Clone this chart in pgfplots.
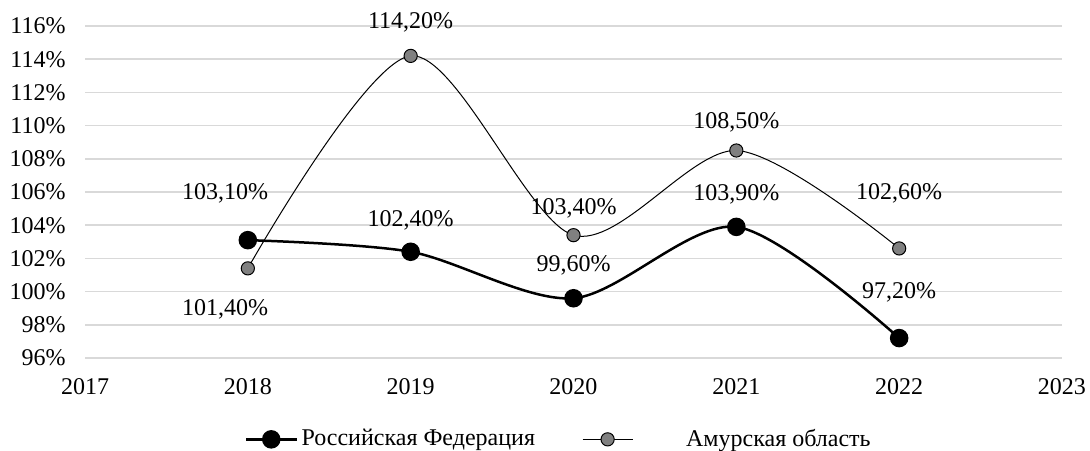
\documentclass[border=0pt]{standalone}
\usepackage{pgfplots}
\pgfplotsset{compat=1.18}
\usepackage{fontspec}
\setmainfont{Liberation Serif}
\definecolor{gridgray}{HTML}{D9D9D9}
\definecolor{amurfill}{HTML}{808080}
\begin{document}
\fontsize{12}{14}\selectfont
\begin{tikzpicture}
\path[use as bounding box] (0,0) rectangle (545pt,225pt);
\begin{axis}[
  at={(42.5pt,46pt)}, anchor=south west,
  scale only axis, width=488.5pt, height=166pt,
  xmin=2017, xmax=2023, ymin=96, ymax=116,
  xtick={2017,...,2023},
  xticklabels={2017,2018,2019,2020,2021,2022,2023},
  ytick={96,98,...,116},
  yticklabel={\pgfmathprintnumber{\tick}\%},
  /pgf/number format/assume math mode=true,
  tick label style={font=\fontsize{12}{14}\selectfont},
  ymajorgrids, grid style={gridgray, line width=0.75pt},
  axis line style={draw=none},
  major tick length=0pt,
  yticklabel style={xshift=-5.5pt},
  xticklabel style={yshift=-6pt},
  clip=false,
  legend columns=2,
  legend style={draw=none, fill=none, at={(0.486,-0.245)}, anchor=center,
    font=\fontsize{12}{14}\selectfont,
    /tikz/every even column/.append style={column sep=21.5pt}},
  legend cell align=left,
  legend image code/.code={\draw[mark repeat=2,mark phase=2,#1] plot coordinates {(0cm,0cm) (0.44cm,0cm) (0.88cm,0cm)};},
]
\addplot[black, line width=1.25pt, smooth, mark=*, mark size=4pt, mark options={fill=black, draw=black}]
  coordinates {(2018,103.1) (2019,102.4) (2020,99.6) (2021,103.9) (2022,97.2)};
\addlegendentry{Российская Федерация}
\addplot[black, line width=0.5pt, smooth, mark=*, mark size=3.3pt, mark options={fill=amurfill, draw=black, line width=0.5pt}]
  coordinates {(2018,101.4) (2019,114.2) (2020,103.4) (2021,108.5) (2022,102.6)};
\addlegendentry{\hspace{24.5pt}Амурская область}
% data labels
\node at (axis cs:2017.86,105.94) {103,10\%};
\node at (axis cs:2019.0,104.31) {102,40\%};
\node at (axis cs:2020.0,101.6) {99,60\%};
\node at (axis cs:2021.0,105.88) {103,90\%};
\node at (axis cs:2022.0,99.98) {97,20\%};
\node at (axis cs:2017.86,98.95) {101,40\%};
\node at (axis cs:2019.0,116.24) {114,20\%};
\node at (axis cs:2020.0,105.04) {103,40\%};
\node at (axis cs:2021.0,110.2) {108,50\%};
\node at (axis cs:2022.0,105.94) {102,60\%};
\end{axis}
\end{tikzpicture}
\end{document}
